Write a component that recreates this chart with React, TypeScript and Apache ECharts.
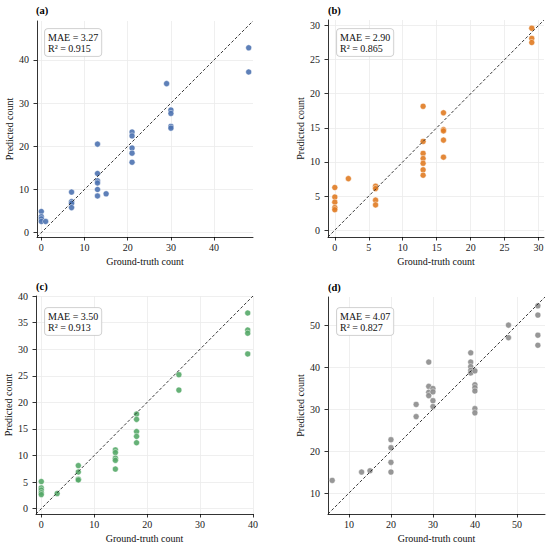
import React, { useEffect, useRef } from "react";
import * as echarts from "echarts";

// ---- data ----
const GT_A = [0, 0, 0, 0, 1, 7, 7, 7, 7, 13, 13, 13, 13, 13, 13, 15, 21, 21, 21, 21, 21, 29, 30, 30, 30, 30, 48, 48];
const PRED_A = [4.9, 3.7, 3.2, 2.6, 2.6, 9.4, 7.2, 6.8, 5.8, 20.5, 13.7, 12.0, 11.5, 10.0, 8.5, 9.0, 23.3, 22.4, 19.6, 18.4, 16.3, 34.5, 28.4, 27.6, 24.6, 24.2, 42.8, 37.2];

const GT_B = [0, 0, 0, 0, 0, 2, 6, 6, 6, 6, 13, 13, 13, 13, 13, 13, 13, 16, 16, 16, 16, 16, 29, 29, 29];
const PRED_B = [6.25, 4.85, 4.1, 3.3, 3.0, 7.55, 6.45, 6.1, 4.4, 3.7, 18.15, 13.0, 11.25, 10.5, 9.8, 8.85, 8.05, 17.2, 14.75, 14.55, 13.2, 10.7, 29.6, 28.1, 27.5];

const GT_C = [0, 0, 0, 0, 0, 3, 7, 7, 7, 7, 14, 14, 14, 14, 14, 18, 18, 18, 18, 18, 26, 26, 39, 39, 39, 39];
const PRED_C = [5.1, 3.9, 3.5, 3.0, 2.65, 2.85, 8.1, 6.9, 5.55, 5.4, 11.05, 10.55, 9.5, 9.1, 7.45, 17.8, 16.8, 14.5, 13.6, 12.4, 25.2, 22.3, 36.8, 33.6, 33.0, 29.1];

const GT_D = [6, 13, 15, 20, 20, 20, 20, 26, 26, 29, 29, 29, 29, 30, 30, 30, 30, 39, 39, 39, 39, 39, 40, 40, 40, 40, 40, 40, 48, 48, 55, 55, 55, 55];
const PRED_D = [13.0, 15.0, 15.3, 22.7, 20.8, 17.3, 15.0, 31.1, 28.2, 41.2, 35.4, 34.0, 33.2, 34.9, 34.1, 32.0, 30.6, 43.4, 41.2, 40.1, 39.2, 38.6, 39.1, 35.8, 35.1, 34.3, 30.1, 29.1, 50.0, 47.0, 54.6, 52.4, 47.6, 45.2];

const PANEL_LABELS = ["(a)", "(b)", "(c)", "(d)"];
const MAE = ["3.27", "2.90", "3.50", "4.07"];
const R2 = ["0.915", "0.865", "0.913", "0.827"];
const LIMITS = [[-1, 49], [-1, 30.8], [-1, 40], [5, 56.7]];
const X_TICKS = [[0, 10, 20, 30, 40], [0, 5, 10, 15, 20, 25, 30], [0, 10, 20, 30, 40], [10, 20, 30, 40, 50]];
const Y_TICKS = [[0, 10, 20, 30, 40], [0, 5, 10, 15, 20, 25, 30], [0, 5, 10, 15, 20, 25, 30, 35, 40], [10, 20, 30, 40, 50]];
const COLORS = ["#4C72B0", "#E07B22", "#55A868", "#8C8C8C"];
const X_NAME = "Ground-truth count";
const Y_NAME = "Predicted count";

const GTS = [GT_A, GT_B, GT_C, GT_D];
const PREDS = [PRED_A, PRED_B, PRED_C, PRED_D];

// ---- layout ----
const GRIDS = [
  { left: 37, top: 21, width: 216, height: 216 },
  { left: 328, top: 20, width: 216, height: 217 },
  { left: 36, top: 296, width: 217, height: 218 },
  { left: 328, top: 297, width: 217, height: 217 },
];
const BOXES = [
  [45, 29],
  [337, 29],
  [45, 308],
  [337, 308],
];
const LABEL_POS = [
  [36, 10.5],
  [328, 10.5],
  [36, 286.5],
  [328, 287.5],
];

const FONT = '"Liberation Serif", "Times New Roman", Times, serif';

export default function App() {
  const ref = useRef<HTMLDivElement>(null);
  useEffect(() => {
    if (!ref.current) return;
    const chart = echarts.init(ref.current, null, { renderer: "svg" });

    const axisCommon = (ticks: number[], lim: number[]) => ({
      type: "value",
      min: lim[0],
      max: lim[1],
      axisLine: { onZero: false, lineStyle: { color: "#000", width: 0.8 } },
      axisTick: { show: true, length: 3.5, inside: false, customValues: ticks, lineStyle: { color: "#000", width: 0.8 } },
      axisLabel: { customValues: ticks, color: "#222", fontSize: 10, fontFamily: FONT, showMinLabel: true, showMaxLabel: true },
      splitLine: { show: true, lineStyle: { color: "#ebebeb", width: 0.8 } },
      nameLocation: "middle",
      nameTextStyle: { color: "#111", fontSize: 10, fontFamily: FONT },
    });

    const xAxis = GRIDS.map((_, i) => {
      const a: any = axisCommon(X_TICKS[i], LIMITS[i]);
      a.gridIndex = i;
      a.name = X_NAME;
      a.nameGap = 19;
      a.axisLabel.margin = 5;
      return a;
    });
    const yAxis = GRIDS.map((_, i) => {
      const a: any = axisCommon(Y_TICKS[i], LIMITS[i]);
      a.gridIndex = i;
      a.name = Y_NAME;
      a.nameGap = 23;
      a.nameRotate = 90;
      a.axisLabel.margin = 8;
      return a;
    });

    const series: any[] = [];
    GRIDS.forEach((_, i) => {
      const lim = LIMITS[i];
      series.push({
        type: "line",
        xAxisIndex: i,
        yAxisIndex: i,
        data: [[lim[0], lim[0]], [lim[1], lim[1]]],
        showSymbol: false,
        symbol: "none",
        lineStyle: { color: "#222", width: 0.9, type: [3, 2] },
        silent: true,
        z: 3,
      });
      series.push({
        type: "scatter",
        xAxisIndex: i,
        yAxisIndex: i,
        data: GTS[i].map((g, k) => [g, PREDS[i][k]]),
        symbolSize: 6,
        itemStyle: { color: COLORS[i], opacity: 0.9, borderColor: "#fff", borderWidth: 0.5 },
        z: 2,
      });
    });

    const graphic: any[] = [];
    GRIDS.forEach((_, i) => {
      graphic.push({
        type: "text",
        x: LABEL_POS[i][0],
        y: LABEL_POS[i][1],
        style: {
          text: PANEL_LABELS[i],
          fill: "#000",
          font: `bold 10.5px ${FONT}`,
          align: "left",
          verticalAlign: "middle",
        },
        z: 10,
      });
      graphic.push({
        type: "text",
        x: BOXES[i][0],
        y: BOXES[i][1],
        style: {
          text: `MAE = ${MAE[i]}\nR² = ${R2[i]}`,
          fill: "#111",
          font: `10px ${FONT}`,
          lineHeight: 11,
          align: "left",
          verticalAlign: "top",
          backgroundColor: "rgba(255,255,255,0.9)",
          borderColor: "#c8c8c8",
          borderWidth: 0.8,
          borderRadius: 3,
          padding: [3, 3, 2, 3],
        },
        z: 10,
      });
    });

    chart.setOption({
      animation: false,
      backgroundColor: "#fff",
      textStyle: { fontFamily: FONT },
      grid: GRIDS.map((g) => ({ ...g, containLabel: false })),
      xAxis,
      yAxis,
      series,
      graphic,
    });
    return () => chart.dispose();
  }, []);

  return (
    <div
      ref={ref}
      style={{ position: "fixed", left: 0, top: 0, width: 550, height: 547, background: "#fff" }}
    />
  );
}
